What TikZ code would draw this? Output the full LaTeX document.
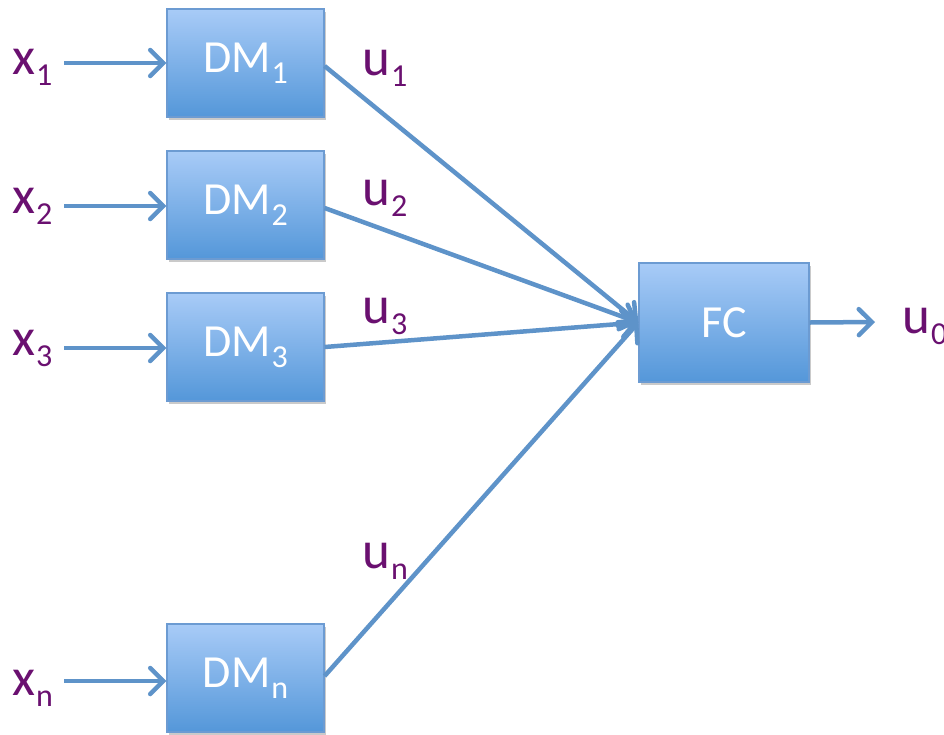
\documentclass[tikz,border=0pt]{standalone}
\usepackage{fontspec}
\setmainfont{Carlito}
\usetikzlibrary{arrows.meta,shadows}
\definecolor{boxtop}{HTML}{A8CBF7}
\definecolor{boxbot}{HTML}{5497D9}
\definecolor{boxedge}{HTML}{6C9BD2}
\definecolor{wire}{HTML}{5E93C9}
\definecolor{lbl}{HTML}{6A1070}
% lowered subscript
\newcommand{\lowsub}[1]{\kern1pt\raisebox{-11pt}{\fontsize{32}{32}\selectfont #1}}
\tikzset{
  block/.style={draw=boxedge, line width=1.2pt, top color=boxtop, bottom color=boxbot,
    minimum width=157pt, minimum height=108pt, inner sep=0pt,
    text=white, font=\fontsize{46}{50}\selectfont,
    drop shadow={shadow xshift=1.5pt, shadow yshift=-2.5pt, opacity=0.35, fill=black!60}},
  sig/.style={text=lbl, font=\fontsize{53}{58}\selectfont, inner sep=0pt, anchor=base west},
  wireline/.style={draw=wire, line width=4.5pt},
  feed/.style={wireline, -{Straight Barb[length=13pt, width=26pt, line cap=round]}},
}
\begin{document}
\begin{tikzpicture}[x=1pt, y=-1pt]
  \useasboundingbox (0,0) rectangle (944,734);
  % decision makers and fusion centre
  \node[block] (dm1) at (245.5,63) {\raisebox{-4pt}{DM\lowsub{1}}};
  \node[block] (dm2) at (245.5,205) {\raisebox{-4pt}{DM\lowsub{2}}};
  \node[block] (dm3) at (245.5,347) {\raisebox{-4pt}{DM\lowsub{3}}};
  \node[block] (dmn) at (245.5,678) {\raisebox{-4pt}{DM\lowsub{n}}};
  \node[block, minimum width=170pt, minimum height=119pt] (fc) at (724,322.5) {FC};
  % input signals
  \node[sig] (x1) at (12,74) {x\lowsub{1}};
  \node[sig] (x2) at (12,213) {x\lowsub{2}};
  \node[sig] (x3) at (12,355) {x\lowsub{3}};
  \node[sig] (xn) at (12,695) {x\lowsub{n}};
  % local decisions
  \node[sig] (u1) at (362,75) {u\lowsub{1}};
  \node[sig] (u2) at (362,205) {u\lowsub{2}};
  \node[sig] (u3) at (362,323) {u\lowsub{3}};
  \node[sig] (un) at (362,568) {u\lowsub{n}};
  \node[sig] (u0) at (902,333) {u\lowsub{0}};
  % input arrows
  \coordinate (in1) at (64,63);
  \coordinate (in2) at (64,206);
  \coordinate (in3) at (64,348);
  \coordinate (inn) at (64,681);
  \draw[feed] (in1) -- (dm1.west |- in1);
  \draw[feed] (in2) -- (dm2.west |- in2);
  \draw[feed] (in3) -- (dm3.west |- in3);
  \draw[feed] (inn) -- (dmn.west |- inn);
  % decisions to the fusion centre
  \coordinate (hub) at (fc.west);
  \draw[feed] ([yshift=-3pt]dm1.east) -- (hub);
  \draw[feed] ([yshift=-3pt]dm2.east) -- (hub);
  \draw[feed] ([yshift=0pt]dm3.east) -- (hub);
  \draw[feed] ([yshift=2pt]dmn.east) -- (hub);
  % fused output
  \coordinate (out) at (875,322);
  \draw[feed] (fc.east) -- (out);
\end{tikzpicture}
\end{document}
